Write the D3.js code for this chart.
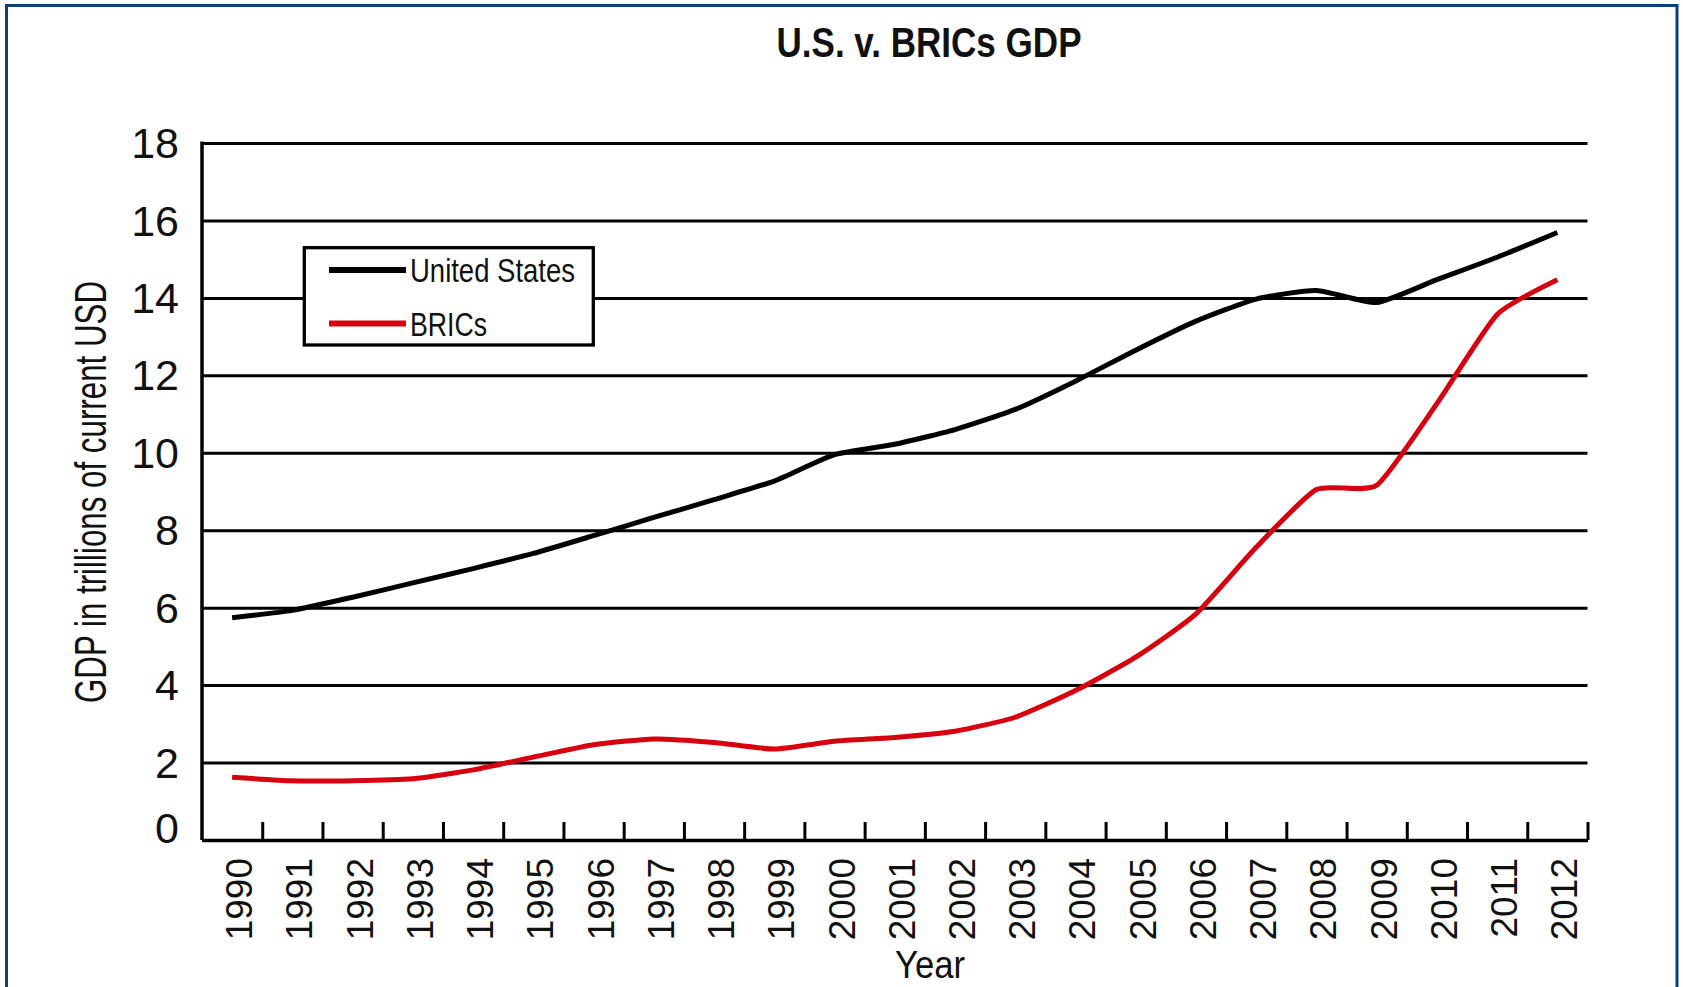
<!DOCTYPE html>
<html>
<head>
<meta charset="utf-8">
<script src="https://cdn.jsdelivr.net/npm/d3@7"></script>
<style>
html, body { margin: 0; padding: 0; background: #fff; overflow: hidden; }
svg { display: block; }
text { font-family: "Liberation Sans Narrow", "Arial Narrow", "Liberation Sans", sans-serif; fill: #111; }
</style>
</head>
<body>
<svg id="chart" width="1683" height="987"></svg>
<script>
// data (trillions of current USD)
var years = [1990, 1991, 1992, 1993, 1994, 1995, 1996, 1997, 1998, 1999, 2000, 2001,
	2002, 2003, 2004, 2005, 2006, 2007, 2008, 2009, 2010, 2011, 2012];
var usGdp = [5.74, 5.93, 6.27, 6.64, 7.01, 7.40, 7.86, 8.33, 8.79, 9.27, 9.95, 10.22,
	10.60, 11.12, 11.85, 12.65, 13.40, 13.97, 14.19, 13.88, 14.47, 15.05, 15.69];
var bricsGdp = [1.62, 1.53, 1.53, 1.58, 1.81, 2.14, 2.46, 2.61, 2.52, 2.35, 2.55, 2.65,
	2.81, 3.17, 3.86, 4.72, 5.84, 7.56, 9.05, 9.16, 11.27, 13.57, 14.47];
var yTicks = [0, 2, 4, 6, 8, 10, 12, 14, 16, 18];
var seriesNames = ['United States', 'BRICs'];
var seriesColors = ['#000000', '#d7000f'];

var svg = d3.select('#chart');
var plot = { left: 202, right: 1587.5, top: 143, bottom: 840 };

// outer frame
svg.append('rect')
	.attr('x', 6.5).attr('y', 5.5)
	.attr('width', 1670.5).attr('height', 1010)
	.attr('fill', 'none').attr('stroke', '#0b3e80').attr('stroke-width', 3);

// scales
var x = d3.scaleBand().domain(years).range([plot.left, plot.right]);
var xEdge = d3.scaleLinear().domain([0, years.length]).range([plot.left, plot.right]);
var y = d3.scaleLinear().domain([0, 18]).range([plot.bottom, plot.top]);

// gridlines + y labels
var grid = svg.append('g')
	.attr('transform', 'translate(' + plot.left + ',0)')
	.call(d3.axisLeft(y).tickValues(yTicks).tickSize(-(plot.right - plot.left)).tickSizeOuter(0).tickPadding(23));
grid.select('.domain').remove();
grid.selectAll('line').attr('stroke', '#000').attr('stroke-width', 3);
grid.selectAll('text')
	.attr('font-size', 43)
	.attr('fill', '#111')
	.attr('dy', function(d) { return d === 0 ? '0.05em' : '0.34em'; });

// left axis line
svg.append('line')
	.attr('x1', plot.left).attr('x2', plot.left)
	.attr('y1', plot.top - 1.5).attr('y2', plot.bottom)
	.attr('stroke', '#000').attr('stroke-width', 3.5);

// bottom axis, ticks on the band edges pointing up
var xAxis = svg.append('g')
	.attr('transform', 'translate(0,' + plot.bottom + ')')
	.call(d3.axisBottom(xEdge).tickValues(d3.range(1, years.length + 1)).tickSize(-18).tickSizeOuter(0).tickFormat(''));
xAxis.select('.domain').attr('stroke', '#000').attr('stroke-width', 3.5);
xAxis.selectAll('line').attr('stroke', '#000').attr('stroke-width', 3);

// year labels
var xLabels = svg.append('g')
	.attr('transform', 'translate(0,' + plot.bottom + ')')
	.call(d3.axisBottom(x).tickSize(0));
xLabels.select('.domain').remove();
xLabels.selectAll('text')
	.attr('font-size', 37)
	.attr('fill', '#111')
	.attr('text-anchor', 'end')
	.attr('transform', 'rotate(-90)')
	.attr('x', -18)
	.attr('y', 20)
	.attr('dy', 0);

// lines
var series = [usGdp, bricsGdp];
var line = d3.line()
	.x(function(d, i) { return x(years[i]) + x.bandwidth() / 2; })
	.y(function(d) { return y(d); })
	.curve(d3.curveCardinal.tension(0.45));

svg.append('g').selectAll('path')
	.data(series)
	.enter().append('path')
	.attr('d', line)
	.attr('fill', 'none')
	.attr('stroke', function(d, i) { return seriesColors[i]; })
	.attr('stroke-width', 5)
	.attr('stroke-linejoin', 'round');

// legend
var legend = svg.append('g');
legend.append('rect')
	.attr('x', 304.3).attr('y', 247.7)
	.attr('width', 289).attr('height', 97.3)
	.attr('fill', '#fff').attr('stroke', '#000').attr('stroke-width', 3.3);
var legendRows = legend.selectAll('.row')
	.data(seriesNames)
	.enter().append('g')
	.attr('class', 'row')
	.attr('transform', function(d, i) { return 'translate(0,' + (270 + i * 53.5) + ')'; });
legendRows.append('line')
	.attr('x1', 329).attr('x2', 406)
	.attr('stroke', function(d, i) { return seriesColors[i]; })
	.attr('stroke-width', 6);
legendRows.append('text')
	.attr('x', 410).attr('y', 12)
	.attr('font-size', 34)
	.attr('textLength', function(d, i) { return i === 0 ? 165 : 77; })
	.attr('lengthAdjust', 'spacingAndGlyphs')
	.text(function(d) { return d; });

// titles
svg.append('text')
	.attr('x', 929).attr('y', 57)
	.attr('text-anchor', 'middle')
	.attr('font-size', 43).attr('font-weight', 'bold')
	.attr('textLength', 305).attr('lengthAdjust', 'spacingAndGlyphs')
	.text('U.S. v. BRICs GDP');

svg.append('text')
	.attr('transform', 'translate(106,492)rotate(-90)')
	.attr('text-anchor', 'middle')
	.attr('font-size', 44)
	.attr('textLength', 422).attr('lengthAdjust', 'spacingAndGlyphs')
	.text('GDP in trillions of current USD');

svg.append('text')
	.attr('x', 930).attr('y', 978)
	.attr('text-anchor', 'middle')
	.attr('font-size', 38)
	.attr('textLength', 70).attr('lengthAdjust', 'spacingAndGlyphs')
	.text('Year');
</script>
</body>
</html>
